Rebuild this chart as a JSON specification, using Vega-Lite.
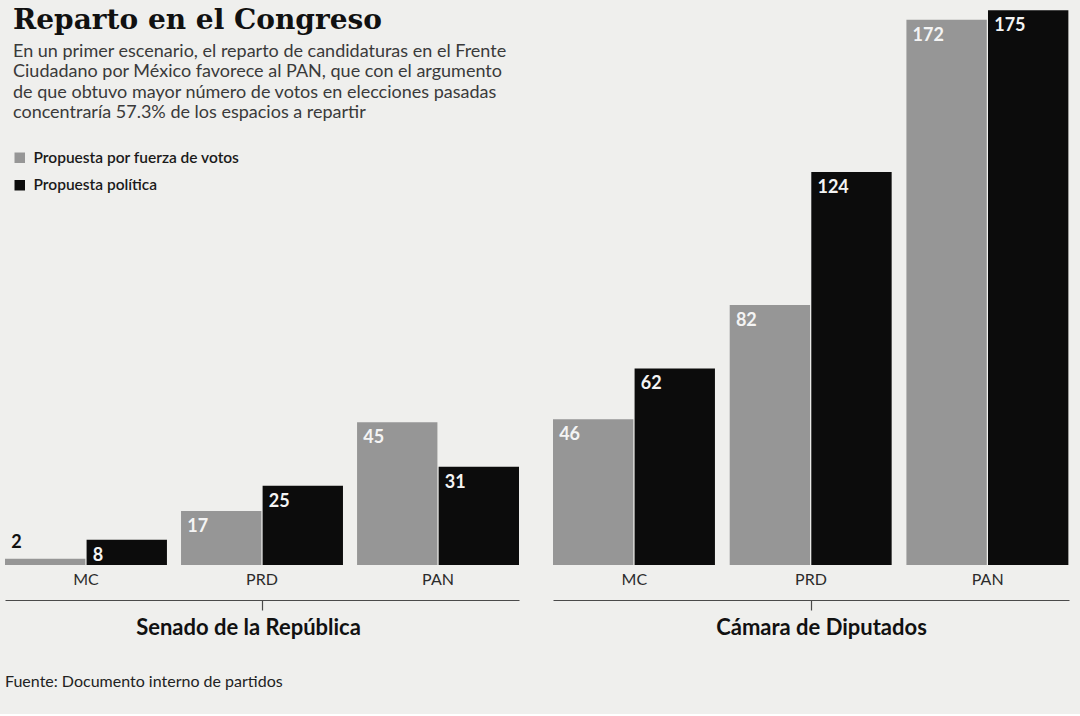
{
  "$schema": "https://vega.github.io/schema/vega-lite/v6.json",
  "background": "#efefed",
  "padding": {"left": 5, "top": 4, "right": 11, "bottom": 24},
  "config": {
    "font": "Lato",
    "view": {"stroke": null},
    "axis": {"grid": false}
  },
  "title": {
    "text": "Reparto en el Congreso",
    "subtitle": [
      "En un primer escenario, el reparto de candidaturas en el Frente",
      "Ciudadano por México favorece al PAN, que con el argumento",
      "de que obtuvo mayor número de votos en elecciones pasadas",
      "concentraría 57.3% de los espacios a repartir"
    ],
    "anchor": "start",
    "frame": "bounds",
    "offset": -118,
    "dx": 8,
    "font": "DejaVu Serif",
    "fontSize": 28,
    "fontWeight": "bold",
    "color": "#111111",
    "subtitleFont": "Lato",
    "subtitleFontSize": 18,
    "subtitleColor": "#3a3a3a",
    "subtitleLineHeight": 20.5,
    "subtitlePadding": 8
  },
  "datasets": {
    "d": [
      {"camara": "Senado de la República", "partido": "MC", "serie": "Propuesta por fuerza de votos", "valor": 2},
      {"camara": "Senado de la República", "partido": "MC", "serie": "Propuesta política", "valor": 8},
      {"camara": "Senado de la República", "partido": "PRD", "serie": "Propuesta por fuerza de votos", "valor": 17},
      {"camara": "Senado de la República", "partido": "PRD", "serie": "Propuesta política", "valor": 25},
      {"camara": "Senado de la República", "partido": "PAN", "serie": "Propuesta por fuerza de votos", "valor": 45},
      {"camara": "Senado de la República", "partido": "PAN", "serie": "Propuesta política", "valor": 31},
      {"camara": "Cámara de Diputados", "partido": "MC", "serie": "Propuesta por fuerza de votos", "valor": 46},
      {"camara": "Cámara de Diputados", "partido": "MC", "serie": "Propuesta política", "valor": 62},
      {"camara": "Cámara de Diputados", "partido": "PRD", "serie": "Propuesta por fuerza de votos", "valor": 82},
      {"camara": "Cámara de Diputados", "partido": "PRD", "serie": "Propuesta política", "valor": 124},
      {"camara": "Cámara de Diputados", "partido": "PAN", "serie": "Propuesta por fuerza de votos", "valor": 172},
      {"camara": "Cámara de Diputados", "partido": "PAN", "serie": "Propuesta política", "valor": 175}
    ]
  },
  "data": {"name": "d"},
  "spacing": 34,
  "resolve": {"scale": {"color": "shared"}},
  "hconcat": [
    {
      "width": 514,
      "height": 561,
      "title": {"text": "Fuente: Documento interno de partidos", "orient": "bottom", "anchor": "start", "offset": 35, "font": "Lato", "fontSize": 16, "fontWeight": "normal", "color": "#222222"},
      "transform": [{"filter": "datum.camara === 'Senado de la República'"}],
      "resolve": {"axis": {"x": "independent"}},
      "layer": [
        {
          "mark": {"type": "bar"},
          "encoding": {
            "x": {"field": "partido", "type": "nominal", "sort": ["MC", "PRD", "PAN"], "scale": {"paddingInner": 0.08, "paddingOuter": 0},
              "axis": {"title": null, "domain": false, "ticks": false, "labelAngle": 0, "labelPadding": 6, "labelFont": "Lato", "labelFontSize": 16, "labelColor": "#2b2b2b"}},
            "xOffset": {"field": "serie", "type": "nominal", "sort": ["Propuesta por fuerza de votos", "Propuesta política"], "scale": {"paddingInner": 0.015}},
            "y": {"field": "valor", "type": "quantitative", "scale": {"domain": [0, 177], "nice": false}, "axis": null},
            "color": {"field": "serie", "type": "nominal", "sort": ["Propuesta por fuerza de votos", "Propuesta política"],
              "scale": {"domain": ["Propuesta por fuerza de votos", "Propuesta política"], "range": ["#969696", "#0c0c0c"]},
              "legend": {"orient": "none", "legendX": 7, "legendY": 146, "title": null, "symbolType": "square", "symbolSize": 110, "symbolStrokeWidth": 0, "symbolOpacity": 1, "labelFont": "Lato", "labelFontSize": 15.5, "labelFontWeight": 600, "labelColor": "#1a1a1a", "labelLimit": 400, "rowPadding": 10.5, "labelOffset": 6}}
          }
        },
        {
          "transform": [{"filter": "datum.valor >= 5"}],
          "mark": {"type": "text", "align": "left", "baseline": "top", "dx": -34, "dy": 7, "font": "Lato", "fontWeight": "bold", "fontSize": 18, "color": "#f4f4f4"},
          "encoding": {
            "x": {"field": "partido", "type": "nominal", "sort": ["MC", "PRD", "PAN"],
              "axis": {"orient": "bottom", "offset": 35, "labels": false, "ticks": true, "values": ["PRD"], "tickSize": 10, "tickColor": "#4a4a4a", "tickWidth": 1.2, "domain": true, "domainColor": "#4a4a4a", "domainWidth": 1.2, "title": "Senado de la República", "titleX": 243, "titleFont": "Lato", "titleFontSize": 22, "titleFontWeight": "bold", "titleColor": "#111111", "titlePadding": 7}},
            "xOffset": {"field": "serie", "type": "nominal", "sort": ["Propuesta por fuerza de votos", "Propuesta política"]},
            "y": {"field": "valor", "type": "quantitative"},
            "text": {"field": "valor", "type": "quantitative"}
          }
        },
        {
          "transform": [{"filter": "datum.valor < 5"}],
          "mark": {"type": "text", "align": "left", "baseline": "alphabetic", "dx": -34, "dy": -11, "font": "Lato", "fontWeight": "bold", "fontSize": 18, "color": "#111111"},
          "encoding": {
            "x": {"field": "partido", "type": "nominal", "sort": ["MC", "PRD", "PAN"], "axis": null},
            "xOffset": {"field": "serie", "type": "nominal", "sort": ["Propuesta por fuerza de votos", "Propuesta política"]},
            "y": {"field": "valor", "type": "quantitative"},
            "text": {"field": "valor", "type": "quantitative"}
          }
        }
      ]
    },
    {
      "width": 516,
      "height": 561,
      "transform": [{"filter": "datum.camara === 'Cámara de Diputados'"}],
      "resolve": {"axis": {"x": "independent"}},
      "layer": [
        {
          "mark": {"type": "bar"},
          "encoding": {
            "x": {"field": "partido", "type": "nominal", "sort": ["MC", "PRD", "PAN"], "scale": {"paddingInner": 0.08, "paddingOuter": 0},
              "axis": {"title": null, "domain": false, "ticks": false, "labelAngle": 0, "labelPadding": 6, "labelFont": "Lato", "labelFontSize": 16, "labelColor": "#2b2b2b"}},
            "xOffset": {"field": "serie", "type": "nominal", "sort": ["Propuesta por fuerza de votos", "Propuesta política"], "scale": {"paddingInner": 0.015}},
            "y": {"field": "valor", "type": "quantitative", "scale": {"domain": [0, 177], "nice": false}, "axis": null},
            "color": {"field": "serie", "type": "nominal", "sort": ["Propuesta por fuerza de votos", "Propuesta política"],
              "scale": {"domain": ["Propuesta por fuerza de votos", "Propuesta política"], "range": ["#969696", "#0c0c0c"]},
              "legend": {"orient": "none", "legendX": 7, "legendY": 146, "title": null, "symbolType": "square", "symbolSize": 110, "symbolStrokeWidth": 0, "symbolOpacity": 1, "labelFont": "Lato", "labelFontSize": 15.5, "labelFontWeight": 600, "labelColor": "#1a1a1a", "labelLimit": 400, "rowPadding": 10.5, "labelOffset": 6}}
          }
        },
        {
          "transform": [{"filter": "datum.valor >= 5"}],
          "mark": {"type": "text", "align": "left", "baseline": "top", "dx": -34, "dy": 7, "font": "Lato", "fontWeight": "bold", "fontSize": 18, "color": "#f4f4f4"},
          "encoding": {
            "x": {"field": "partido", "type": "nominal", "sort": ["MC", "PRD", "PAN"],
              "axis": {"orient": "bottom", "offset": 35, "labels": false, "ticks": true, "values": ["PRD"], "tickSize": 10, "tickColor": "#4a4a4a", "tickWidth": 1.2, "domain": true, "domainColor": "#4a4a4a", "domainWidth": 1.2, "title": "Cámara de Diputados", "titleX": 268, "titleFont": "Lato", "titleFontSize": 22, "titleFontWeight": "bold", "titleColor": "#111111", "titlePadding": 7}},
            "xOffset": {"field": "serie", "type": "nominal", "sort": ["Propuesta por fuerza de votos", "Propuesta política"]},
            "y": {"field": "valor", "type": "quantitative"},
            "text": {"field": "valor", "type": "quantitative"}
          }
        }
      ]
    }
  ]
}
